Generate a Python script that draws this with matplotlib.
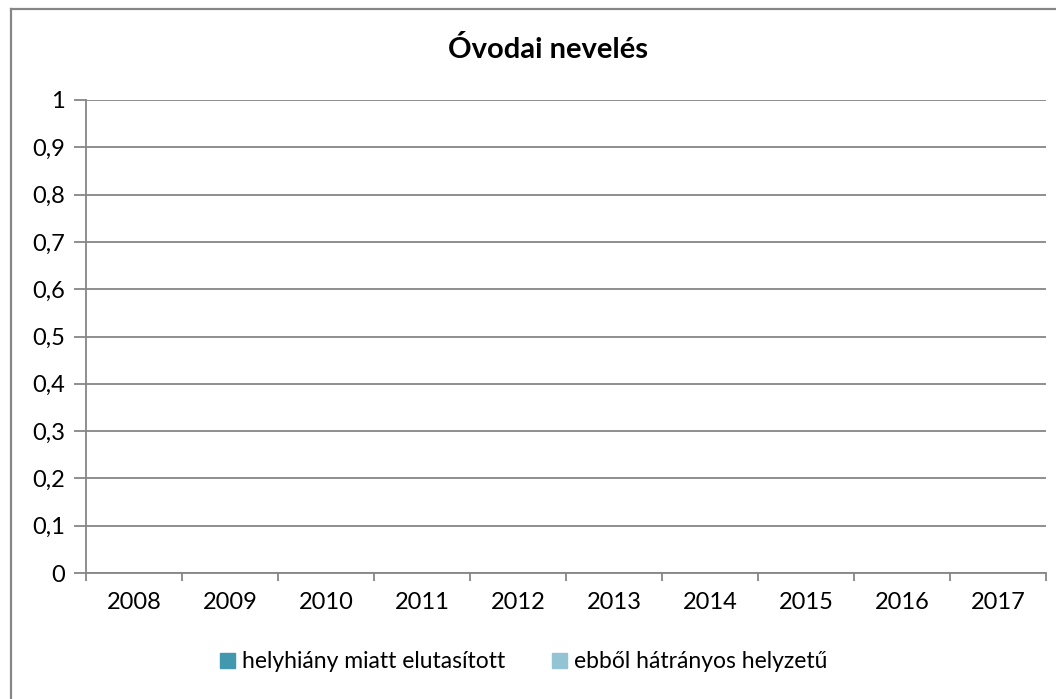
"""
Óvodai nevelés - empty clustered bar chart (all values zero)
"""
import matplotlib.pyplot as plt
from matplotlib.lines import Line2D
from matplotlib.patches import Patch
import numpy as np

years = ['2008', '2009', '2010', '2011', '2012', '2013', '2014', '2015', '2016', '2017']
helyhiany = [0, 0, 0, 0, 0, 0, 0, 0, 0, 0]
hatranyos = [0, 0, 0, 0, 0, 0, 0, 0, 0, 0]
series_names = ['helyhiány miatt elutasított', 'ebből hátrányos helyzetű']
colors = ['#4198AF', '#93C4D3']
y_ticks = [0, 0.1, 0.2, 0.3, 0.4, 0.5, 0.6, 0.7, 0.8, 0.9, 1]

plt.rcParams['font.family'] = ['Lato', 'DejaVu Sans']
W, H = 1056, 699
fig = plt.figure(figsize=(W / 100, H / 100), dpi=100)
grey = '#868686'

# outer chart border (only left and top visible in the picture)
fig.add_artist(Line2D([10.5 / W, 10.5 / W], [0, 1 - 8.5 / H], transform=fig.transFigure,
                      color=grey, lw=1.6, clip_on=False))
fig.add_artist(Line2D([10.5 / W, 1], [1 - 8.5 / H, 1 - 8.5 / H], transform=fig.transFigure,
                      color=grey, lw=1.6, clip_on=False))

ax = fig.add_axes([86 / W, 1 - 573 / H, (1046 - 86) / W, (573 - 100) / H])
x = np.arange(len(years))
width = 0.3
ax.bar(x - width / 2, helyhiany, width, color=colors[0])
ax.bar(x + width / 2, hatranyos, width, color=colors[1])

ax.set_xlim(-0.5, len(years) - 0.5)
ax.set_ylim(0, 1)
ax.set_yticks(y_ticks)
ax.set_yticklabels([f'{v:g}'.replace('.', ',') for v in y_ticks])
ax.yaxis.grid(True, color=grey, lw=1.3)
ax.set_axisbelow(True)

ax.set_xticks(np.arange(-0.5, len(years)), minor=False)
ax.set_xticklabels([])
ax.set_xticks(x, minor=True)
ax.set_xticklabels(years, minor=True)
ax.tick_params(axis='x', which='major', length=6, width=1.3, color=grey)
ax.tick_params(axis='x', which='minor', length=0, pad=14, labelsize=17)
ax.tick_params(axis='y', length=9, width=1.3, color=grey, pad=6, labelsize=17)

for side in ('top', 'right'):
    ax.spines[side].set_visible(False)
for side in ('left', 'bottom'):
    ax.spines[side].set_color(grey)
    ax.spines[side].set_linewidth(1.3)

fig.text(548 / W, 1 - 50 / H, 'Óvodai nevelés', ha='center', va='center',
         fontsize=21, fontweight='bold')

handles = [Patch(color=c) for c in colors]
fig.legend(handles, series_names, loc='center', bbox_to_anchor=(524 / W, 1 - 662 / H),
           ncol=2, frameon=False, fontsize=16.5, handlelength=0.65, handleheight=0.65,
           handletextpad=0.3, columnspacing=2.05)

fig.savefig('out.png', dpi=100)
plt.close(fig)
